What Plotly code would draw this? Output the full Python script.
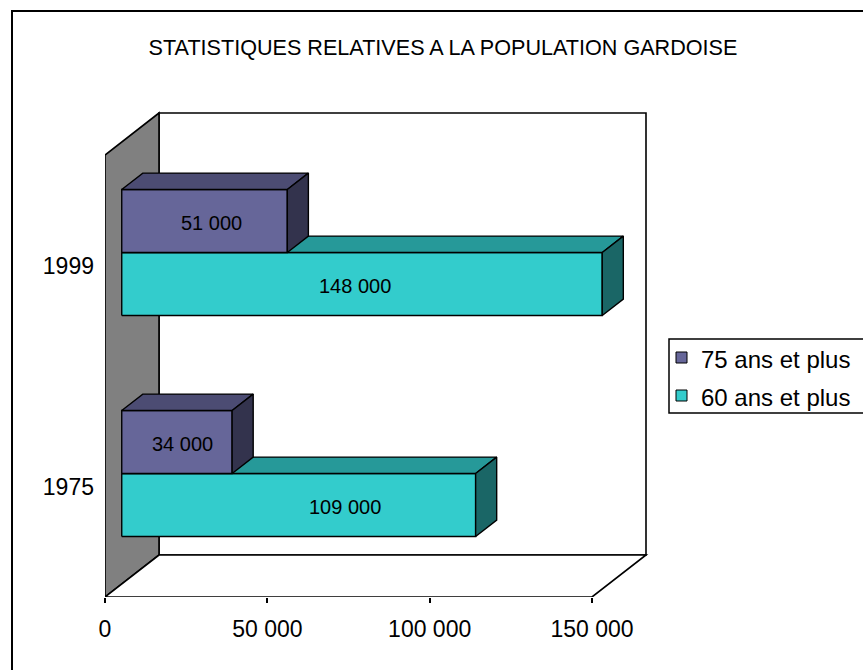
import plotly.graph_objects as go

# ---- data ----
years = ["1975", "1999"]
series_names = ["60 ans et plus", "75 ans et plus"]
pop_60_plus = [109000, 148000]
pop_75_plus = [34000, 51000]
x_ticks = [0, 50000, 100000, 150000]
x_tick_text = ["0", "50 000", "100 000", "150 000"]
title_text = "STATISTIQUES RELATIVES A LA POPULATION GARDOISE"

# ---- geometry (pixels) ----
W, H = 863, 670
L, R, T, B = 105, 657, 100, 597          # plot area
XMAX = 150000
PX_PER_VAL = 487 / XMAX                   # horizontal scale
PX_PER_CAT = 221                          # one category band
DEPTH_PX = (54, 42)                       # oblique depth of the box
F0, F1 = 0.31, 0.70                       # bar front / back depth fraction
BAR_H = 63 / PX_PER_CAT                   # bar thickness in category units
# where each value label sits along its bar (fraction of the bar length)
label_frac = {"60 ans et plus": [0.63, 0.485], "75 ans et plus": [0.55, 0.54]}

x_range = [0, (R - L) / PX_PER_VAL]
y_range = [-0.5, -0.5 + (B - T) / PX_PER_CAT]
ddx = DEPTH_PX[0] / PX_PER_VAL
ddy = DEPTH_PX[1] / PX_PER_CAT

FONT = "Arial, Liberation Sans, sans-serif"
colors = {
    "60 ans et plus": ("#33CCCC", "#269999", "#1A6666"),
    "75 ans et plus": ("#666699", "#4C4C73", "#33334D"),
}

fig = go.Figure()


def poly(xs, ys, fill):
    fig.add_trace(go.Scatter(
        x=xs + [xs[0]], y=ys + [ys[0]], mode="lines", fill="toself",
        fillcolor=fill, line=dict(color="black", width=1.4),
        hoverinfo="skip", showlegend=False))


annotations = []
for name, values in ((series_names[0], pop_60_plus), (series_names[1], pop_75_plus)):
    front, top, side = colors[name]
    for c, v in enumerate(values):
        if name == series_names[0]:
            y0, y1 = c - BAR_H, c
        else:
            y0, y1 = c, c + BAR_H
        ax, ay = F0 * ddx, F0 * ddy
        bx, by = F1 * ddx, F1 * ddy
        # front face
        poly([ax, ax + v, ax + v, ax], [ay + y0, ay + y0, ay + y1, ay + y1], front)
        # top face
        poly([ax, ax + v, bx + v, bx], [ay + y1, ay + y1, by + y1, by + y1], top)
        # right side face
        poly([ax + v, bx + v, bx + v, ax + v], [ay + y0, by + y0, by + y1, ay + y1], side)
        annotations.append(dict(
            x=ax + v * label_frac[name][c], y=ay + (y0 + y1) / 2 - 0.01,
            xref="x", yref="y",
            text=f"{v:,}".replace(",", " "), showarrow=False,
            font=dict(family=FONT, size=20, color="black")))

# walls and floor
shapes = []
lw = dict(color="black", width=1.6)
y_lo, y_hi = -0.5, 1.5
shapes.append(dict(type="path", xref="x", yref="y", layer="below",
                   path=f"M{ddx},{y_lo + ddy} L{XMAX + ddx},{y_lo + ddy} L{XMAX + ddx},{y_hi + ddy} L{ddx},{y_hi + ddy} Z",
                   fillcolor="white", line=lw))
shapes.append(dict(type="path", xref="x", yref="y", layer="below",
                   path=f"M0,{y_lo} L{ddx},{y_lo + ddy} L{ddx},{y_hi + ddy} L0,{y_hi} Z",
                   fillcolor="#808080", line=lw))
shapes.append(dict(type="path", xref="x", yref="y", layer="below",
                   path=f"M0,{y_lo} L{XMAX},{y_lo} L{XMAX + ddx},{y_lo + ddy} L{ddx},{y_lo + ddy} Z",
                   fillcolor="white", line=lw))
# category tick marks on the left edge
tick_len = 5 / PX_PER_VAL
for yb in (-0.5, 0.5, 1.5):
    shapes.append(dict(type="line", xref="x", yref="y", x0=-tick_len, x1=0,
                       y0=yb, y1=yb, line=lw))


def px_to_paper(px, py):
    return (px - L) / (R - L), (B - py) / (B - T)


# outer frame of the chart
fx0, fy0 = px_to_paper(12, 11)
fx1, fy1 = px_to_paper(900, 700)
shapes.append(dict(type="rect", xref="paper", yref="paper", x0=fx0, y0=fy1,
                   x1=fx1, y1=fy0, line=dict(color="black", width=2)))

# legend box, keys and labels
lx0, ly0 = px_to_paper(669, 339)
lx1, ly1 = px_to_paper(880, 413)
shapes.append(dict(type="rect", xref="paper", yref="paper", x0=lx0, y0=ly1,
                   x1=lx1, y1=ly0, fillcolor="white",
                   line=dict(color="black", width=1.5)))
legend_rows = [(series_names[1], 358), (series_names[0], 396)]
for name, row_y in legend_rows:
    kx0, ky0 = px_to_paper(676, row_y - 6)
    kx1, ky1 = px_to_paper(687, row_y + 5)
    shapes.append(dict(type="rect", xref="paper", yref="paper", x0=kx0, y0=ky1,
                       x1=kx1, y1=ky0, fillcolor=colors[name][0],
                       line=dict(color="black", width=1)))
    tx, ty = px_to_paper(699, row_y + 1)
    annotations.append(dict(x=tx, y=ty, xref="paper", yref="paper", text=name,
                            showarrow=False, xanchor="left", yanchor="middle",
                            font=dict(family=FONT, size=24, color="black")))

fig.update_layout(
    width=W, height=H,
    margin=dict(l=L, r=W - R, t=T, b=H - B, pad=0),
    paper_bgcolor="white", plot_bgcolor="white",
    font=dict(family=FONT, color="black"),
    title=dict(text=title_text, x=443 / W, y=1 - 47 / H, xref="container",
               yref="container", xanchor="center", yanchor="middle",
               font=dict(family=FONT, size=21.6, color="black")),
    xaxis=dict(range=x_range, tickvals=x_ticks, ticktext=x_tick_text,
               ticks="outside", ticklen=5, tickwidth=1.5, tickcolor="black",
               showgrid=False, zeroline=False, showline=False,
               tickfont=dict(family=FONT, size=23), ticklabelstandoff=6,
               fixedrange=True),
    yaxis=dict(range=y_range, tickvals=[0, 1], ticktext=years, ticks="",
               showgrid=False, zeroline=False, showline=False,
               tickfont=dict(family=FONT, size=23), ticklabelstandoff=10,
               fixedrange=True),
    shapes=shapes,
    annotations=annotations,
    showlegend=False,
)

fig.write_html("out.html")
